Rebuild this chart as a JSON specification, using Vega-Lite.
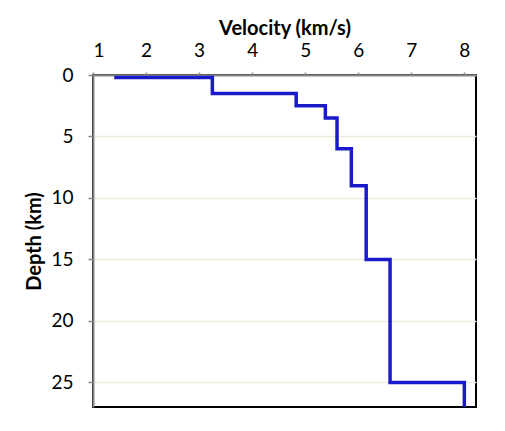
{
  "$schema": "https://vega.github.io/schema/vega-lite/v6.json",
  "width": 383,
  "height": 332,
  "autosize": "none",
  "padding": {"left": 93, "top": 75, "right": 29, "bottom": 24},
  "background": "white",
  "config": {
    "view": {"stroke": "black", "strokeWidth": 2},
    "font": "Lato"
  },
  "data": {
    "values": [
      {"i": 0, "velocity": 1.4, "depth": 0.2},
      {"i": 1, "velocity": 3.25, "depth": 0.2},
      {"i": 2, "velocity": 3.25, "depth": 1.5},
      {"i": 3, "velocity": 4.83, "depth": 1.5},
      {"i": 4, "velocity": 4.83, "depth": 2.5},
      {"i": 5, "velocity": 5.38, "depth": 2.5},
      {"i": 6, "velocity": 5.38, "depth": 3.5},
      {"i": 7, "velocity": 5.6, "depth": 3.5},
      {"i": 8, "velocity": 5.6, "depth": 6},
      {"i": 9, "velocity": 5.87, "depth": 6},
      {"i": 10, "velocity": 5.87, "depth": 9},
      {"i": 11, "velocity": 6.15, "depth": 9},
      {"i": 12, "velocity": 6.15, "depth": 15},
      {"i": 13, "velocity": 6.6, "depth": 15},
      {"i": 14, "velocity": 6.6, "depth": 25},
      {"i": 15, "velocity": 8.0, "depth": 25},
      {"i": 16, "velocity": 8.0, "depth": 27}
    ]
  },
  "mark": {"type": "line", "color": "#1a1acc", "strokeWidth": 3.5, "strokeJoin": "miter", "strokeCap": "butt", "clip": true},
  "encoding": {
    "x": {
      "field": "velocity",
      "type": "quantitative",
      "scale": {"domain": [1, 8.22], "nice": false, "zero": false},
      "axis": {
        "orient": "top",
        "values": [1, 2, 3, 4, 5, 6, 7, 8],
        "title": "Velocity (km/s)",
        "grid": false,
        "domainColor": "#888888",
        "domainWidth": 2,
        "tickColor": "#888888",
        "tickWidth": 1.5,
        "tickSize": 3,
        "labelFontSize": 19,
        "labelColor": "black",
        "labelPadding": 12,
        "titleFontSize": 20,
        "titleFontWeight": "bold",
        "titleColor": "black",
        "titlePadding": 3
      }
    },
    "y": {
      "field": "depth",
      "type": "quantitative",
      "scale": {"domain": [0, 27], "reverse": true, "nice": false},
      "axis": {
        "values": [0, 5, 10, 15, 20, 25],
        "title": "Depth (km)",
        "grid": true,
        "gridColor": "#ecebdc",
        "gridWidth": 1.5,
        "domainColor": "#888888",
        "domainWidth": 2,
        "tickColor": "#888888",
        "tickWidth": 1.5,
        "tickSize": 5,
        "labelFontSize": 19,
        "labelColor": "black",
        "labelPadding": 15,
        "titleFontSize": 20,
        "titleFontWeight": "bold",
        "titleColor": "black",
        "titlePadding": 6
      }
    },
    "order": {"field": "i", "type": "quantitative"}
  }
}
